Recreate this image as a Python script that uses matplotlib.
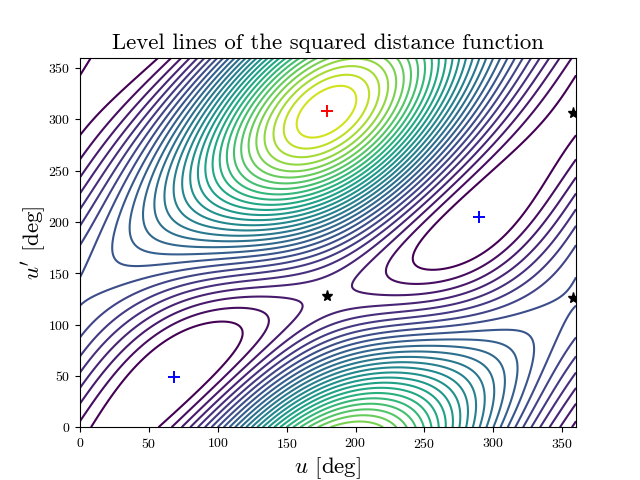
import numpy as np
import matplotlib
matplotlib.use("Agg")
import matplotlib.pyplot as plt

plt.rcParams['font.family'] = ['cmr10', 'DejaVu Sans']
plt.rcParams['mathtext.fontset'] = 'cm'
plt.rcParams['axes.formatter.use_mathtext'] = True
plt.rcParams['axes.unicode_minus'] = False

# Stationary points (degrees)
minima_u = [68, 289.5]
minima_v = [49, 205]
maximum_u = [179]
maximum_v = [308]
saddle_u = [179, 357.5, 357.5]
saddle_v = [128, 126, 306]

# Points: (u, u', index of the level line through it)
line_u = [114, 245, 16, 52, 65, 0, 0,
          136.7, 222, 71, 0,
          168.6, 191, 77, 0,
          0, 0, 0, 0, 0, 0, 0, 0, 0, 0, 0, 0, 0,
          25.4, 38, 330, 318, 26.6, 41, 62, 43.5, 63, 80,
          310, 304, 298, 319, 319, 359, 319, 319, 319, 319, 358, 358,
          158, 201, 149, 209.7]
line_v = [92, 167, 0, 0, 82, 333, 291,
          103.5, 150, 0, 11,
          121, 135.5, 0, 25,
          267, 250, 233, 220, 200, 171, 138, 122, 92, 75, 60, 41, 25,
          174.5, 194, 79, 69, 179, 179, 179, 160, 170, 176,
          60, 53, 46, 26, 10, 90, 111, 122, 132, 145, 136, 168,
          298, 320, 298, 327]
line_k = [0, 0, 0, 0, 0, 0, 0,
          1, 1, 1, 1,
          2, 2, 2, 2,
          1, 2, 3, 4, 5, 6, 7, 7, 6, 5, 4, 3, 2,
          8, 9, 8, 9, 8, 9, 10, 8, 9, 10,
          10, 11, 12, 7, 6, 6, 7, 6, 5, 4, 7, 6,
          28, 28, 27, 27]
# Level lines met going down the column u = 181 from the maximum
column_u = 181.4
column_v = [284.1, 275, 266.9, 260.4, 254.6, 249, 244.2, 239.7, 235.2, 231.0,
            226.7, 222.8, 218.9, 215.1, 211.2, 207.3, 203.3, 199.3, 195.4, 191.2,
            186.4, 181.6, 175.7, 169.3, 161.2, 151.4]
column_k = list(range(28, 2, -1))
# The same column below the saddle
lower_v = [103, 93, 86.5, 80.7, 75.8, 71, 67, 62.8, 58.6, 54.7, 50.8, 47.3,
           43.4, 39.5, 35.3, 31.4, 27.2, 22.3, 17.5, 12.6, 6.1, 0]
lower_k = list(range(3, 25))
# Level lines met going right along the row u' = 250
row_v = 250
row_u = [6, 14.5, 23, 31.4, 37.5, 43.5, 49.6, 54.4, 60.5, 65.3, 70.2, 75, 79.8,
         84.7, 89.5, 95.5, 101.6, 108.9, 118.5]
row_k = list(range(3, 22))
# Tips of the low loops and the estimated height of the saddles and the maximum
key_u = [114, 245, 136.7, 222, 168.6, 191, 179, 357.5, 357.5, 179]
key_v = [92, 167, 103.5, 150, 121, 135.5, 128, 126, 306, 308]
key_k = [0, 0, 1, 1, 2, 2, 2.5, 6.9, -0.5, 28.7]
color_top_index = 30


def basis(u, v):
    u = np.radians(u); v = np.radians(v)
    return np.stack([np.cos(u), np.sin(u), np.cos(2*u), np.cos(v), np.sin(v), np.cos(2*v),
                     np.cos(u)*np.cos(v), np.cos(u)*np.sin(v),
                     np.sin(u)*np.cos(v), np.sin(u)*np.sin(v)], axis=-1)


def grad_rows(u, v):
    h = 0.5
    return [(basis(u+h, v)-basis(u-h, v))/(2*np.radians(h)),
            (basis(u, v+h)-basis(u, v-h))/(2*np.radians(h))]


pts_u = line_u + [column_u]*(len(column_v)+len(lower_v)) + row_u
pts_v = line_v + column_v + lower_v + [row_v]*len(row_u)
pts_k = line_k + column_k + lower_k + row_k
rows, rhs = [], []
for a, b, k in zip(pts_u, pts_v, pts_k):
    rows.append(np.r_[basis(a, b), -1.0]); rhs.append(k)
for a, b, k in zip(key_u, key_v, key_k):
    rows.append(4*np.r_[basis(a, b), -1.0]); rhs.append(4*k)
for us, vs in [(minima_u, minima_v), (maximum_u, maximum_v), (saddle_u, saddle_v)]:
    for a, b in zip(us, vs):
        for g in grad_rows(a, b):
            rows.append(np.r_[g*3.0, 0.0]); rhs.append(0.0)
sol = np.linalg.lstsq(np.array(rows), np.array(rhs), rcond=None)[0]
coef, L0 = sol[:-1], sol[-1]
levels = L0 + np.arange(0, 29)

uu = np.linspace(0, 360, 721)
U, V = np.meshgrid(uu, uu)
Z = basis(U, V) @ coef

fig, ax = plt.subplots(figsize=(6.4, 4.8), dpi=100)
ax.contour(U, V, Z, levels=levels, cmap='viridis', linewidths=1.5,
           vmin=L0, vmax=L0 + color_top_index)
ax.plot(minima_u, minima_v, '+', color='blue', ms=9, mew=1.4)
ax.plot(maximum_u, maximum_v, '+', color='red', ms=9, mew=1.4)
ax.plot(saddle_u, saddle_v, '*', color='black', ms=8)
ax.set_xlim(0, 360)
ax.set_ylim(0, 360)
ax.set_xlabel(r'$u$ [deg]', fontsize=16.5, labelpad=3)
ax.set_ylabel(r"$u'$ [deg]", fontsize=16.5, labelpad=0)
ax.set_title('Level lines of the squared distance function', fontsize=16.4)
fig.savefig('out.png', dpi=100)
